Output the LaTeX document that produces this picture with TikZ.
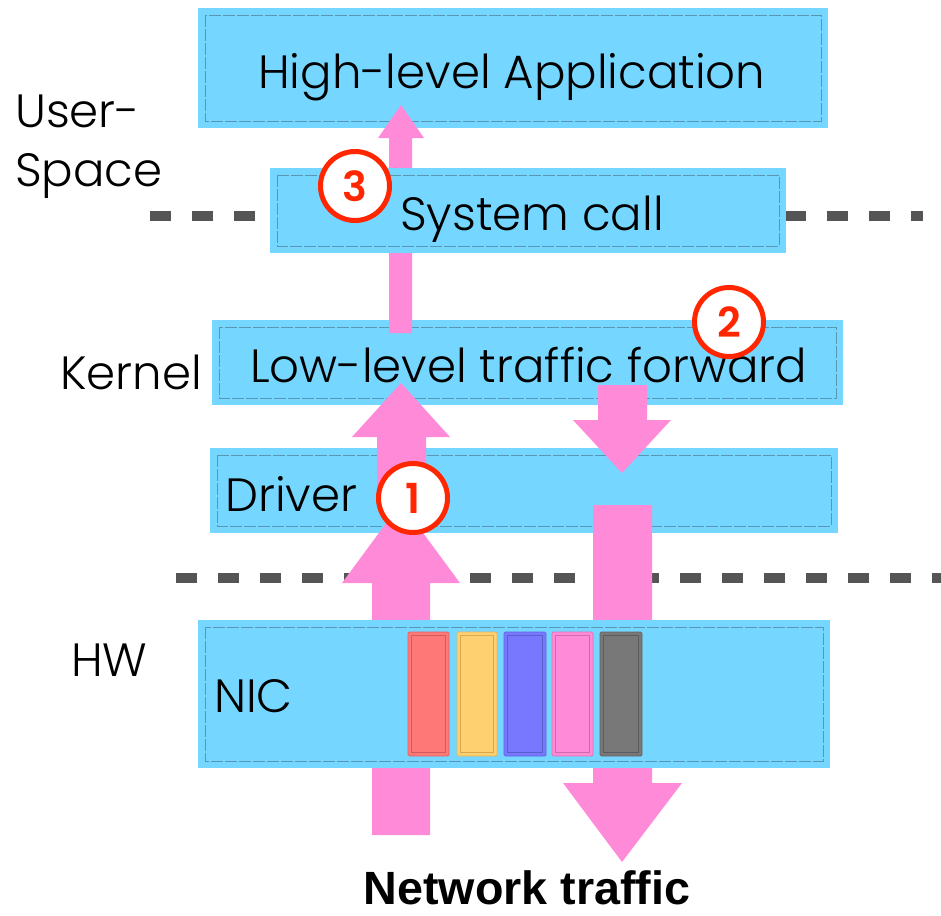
\documentclass[tikz,border=0pt]{standalone}
\usepackage{fontspec}
\usetikzlibrary{fit}
\IfFontExistsTF{Poppins Light}{\newfontfamily\labelfont{Poppins Light}}{\newfontfamily\labelfont{Poppins}}
\IfFontExistsTF{Poppins SemiBold}{\newfontfamily\digitfont{Poppins SemiBold}}{\newfontfamily\digitfont{Poppins}}
\newfontfamily\trafficfont{Liberation Sans}

\definecolor{boxfill}{RGB}{117,214,255}
\definecolor{boxline}{RGB}{88,150,178}
\definecolor{flowpink}{RGB}{255,138,216}
\definecolor{markred}{RGB}{255,38,0}
\definecolor{sepgray}{RGB}{85,85,85}
\definecolor{qred}{RGB}{255,120,120}
\definecolor{qredline}{RGB}{205,92,92}
\definecolor{qyellow}{RGB}{255,208,112}
\definecolor{qyellowline}{RGB}{214,168,80}
\definecolor{qblue}{RGB}{120,120,255}
\definecolor{qblueline}{RGB}{92,92,205}
\definecolor{qpink}{RGB}{255,138,216}
\definecolor{qpinkline}{RGB}{205,108,170}
\definecolor{qgray}{RGB}{120,120,120}
\definecolor{qgrayline}{RGB}{92,92,92}

\tikzset{
  layerbox/.style={rectangle, fill=boxfill, inner sep=0pt,
    path picture={\draw[boxline, line width=0.5pt, dash pattern=on 9pt off 1.5pt]
      ([shift={(7,7)}]path picture bounding box.north west) rectangle
      ([shift={(-7,-7)}]path picture bounding box.south east);}},
  boxtext/.style={anchor=base west, inner sep=0pt, text=black,
    font=\labelfont\fontsize{35}{35}\selectfont},
  sidetext/.style={anchor=base west, inner sep=0pt, text=black, align=left,
    font=\labelfont\fontsize{35}{44}\selectfont},
  separator/.style={sepgray, line width=7.5pt, dash pattern=on 15.75pt off 15.75pt},
  flow/.style={fill=flowpink},
  stepmark/.style={circle, draw=markred, line width=3.75pt, fill=white,
    minimum size=51.75pt, inner sep=0pt, text=markred,
    font=\digitfont\fontsize{31}{31}\selectfont},
  queue/.style={rectangle, rounded corners=1pt, inner sep=0pt, line width=0.6pt},
}

\newcommand{\queueslot}[5]{%
  \node[queue, fill=#3, draw=#4!70!#3, fit={(#1,632) (#2,756)}] (#5) {};
  \draw[#4, line width=1.1pt] ([shift={(4,4)}]#5.north west) rectangle ([shift={(-4,-4)}]#5.south east);
}

\begin{document}
\begin{tikzpicture}[x=0.75pt, y=-0.75pt]
\useasboundingbox (0,0) rectangle (941,915);

% layer boxes below the data paths
\node[layerbox, fit={(198,8) (828,128)}] (app) {};
\node[layerbox, fit={(212,320) (843,405)}] (low) {};
\node[layerbox, fit={(210,448) (838,533)}] (drv) {};

% privilege boundaries
\draw[separator] (150,216) -- (262,216);
\draw[separator] (785,216) -- (923,216);
\draw[separator] (176,578) -- (941,578);

% receive path (up)
\fill[flow] (372,835) -- (372,583) -- (342,583) -- (401,503) -- (460,583) -- (430,583) -- (430,835) -- cycle;
\fill[flow] (377,505) -- (377,437) -- (352,437) -- (401,383) -- (450,437) -- (426,437) -- (426,505) -- cycle;
\fill[flow] (389,333) -- (389,138) -- (378,138) -- (401,105) -- (424,138) -- (412,138) -- (412,333) -- cycle;
% forward path (down)
\fill[flow] (598,385) -- (598,420) -- (573,420) -- (622,473) -- (671,420) -- (647,420) -- (647,385) -- cycle;
\fill[flow] (593,505) -- (593,783) -- (563,783) -- (622,862) -- (682,783) -- (652,783) -- (652,505) -- cycle;

% boxes above the data paths
\node[layerbox, fit={(270,168) (786,253)}] (sys) {};
\node[layerbox, fit={(198,620) (830,768)}] (nic) {};

% NIC queues
\queueslot{408}{449}{qred}{qredline}{q1}
\queueslot{457}{497}{qyellow}{qyellowline}{q2}
\queueslot{504}{546}{qblue}{qblueline}{q3}
\queueslot{552}{593}{qpink}{qpinkline}{q4}
\queueslot{600}{642}{qgray}{qgrayline}{q5}

% box labels
\node[boxtext] (apptext) at (258,88) {High-level Application};
\node[boxtext] (systext) at (400,230) {System call};
\node[boxtext] (lowtext) at (250,382) {Low-level traffic forward};
\node[boxtext] (drvtext) at (225,511) {Driver};
\node[boxtext] (nictext) at (214,712) {NIC};

% layer names
\node[sidetext] (user) at (15,186) {User-\\Space};
\node[sidetext] (kernel) at (60,389) {Kernel};
\node[sidetext] (hw) at (71,676) {HW};

\node[anchor=base, inner sep=0pt, font=\trafficfont\bfseries\fontsize{35}{35}\selectfont]
  (traffic) at (527,904) {Network traffic};

% step markers
\node[stepmark] (m1) at (413,498) {1};
\node[stepmark] (m2) at (729,322) {2};
\node[stepmark] (m3) at (355,186) {3};
\end{tikzpicture}
\end{document}
